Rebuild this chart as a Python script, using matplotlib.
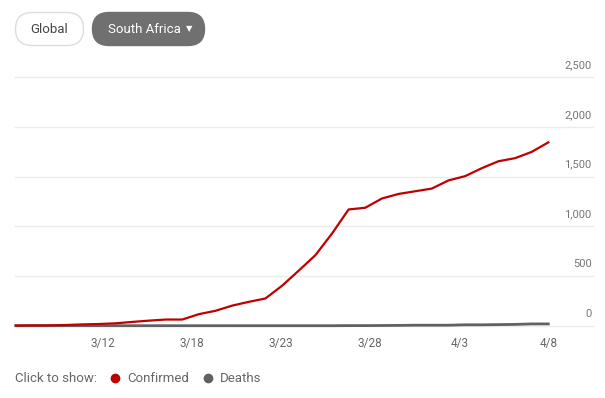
import matplotlib
matplotlib.use("Agg")
import matplotlib.pyplot as plt
from matplotlib.patches import FancyBboxPatch

# --- data (3/7 .. 4/8, one point per day) ---
dates = ['3/7', '3/8', '3/9', '3/10', '3/11', '3/12', '3/13', '3/14', '3/15', '3/16',
         '3/17', '3/18', '3/19', '3/20', '3/21', '3/22', '3/23', '3/24', '3/25', '3/26',
         '3/27', '3/28', '3/29', '3/30', '3/31', '4/1', '4/2', '4/3', '4/4', '4/5',
         '4/6', '4/7', '4/8']
confirmed = [1, 3, 3, 7, 13, 17, 24, 38, 51, 62,
             62, 116, 150, 202, 240, 274, 402, 554, 709, 927,
             1170, 1187, 1280, 1326, 1353, 1380, 1462, 1505, 1585, 1655,
             1686, 1749, 1845]
deaths = [0, 0, 0, 0, 0, 0, 0, 0, 0, 0,
          0, 0, 0, 0, 0, 0, 0, 0, 0, 0,
          1, 1, 2, 3, 5, 5, 5, 9, 9, 11,
          13, 18, 18]
tick_pos = [5.25, 10.6, 15.95, 21.3, 26.65, 32]
tick_labels = ['3/12', '3/18', '3/23', '3/28', '4/3', '4/8']
y_ticks = [0, 500, 1000, 1500, 2000, 2500]
y_labels = ['0', '500', '1,000', '1,500', '2,000', '2,500']

W, H = 605, 398
plt.rcParams['font.family'] = ['Roboto', 'DejaVu Sans']
fig = plt.figure(figsize=(W / 100, H / 100), dpi=100)
fig.patch.set_facecolor('white')

# plot area in pixels: x 15..593, y 77..326
x0, x1, ytop, ybot = 15, 593, 77.3, 325.7
ax = fig.add_axes([x0 / W, 1 - ybot / H, (x1 - x0) / W, (ybot - ytop) / H])
days = list(range(len(dates)))
ax.set_xlim(-0.05, (x1 - 15.8) / 16.64)
ax.set_ylim(0, 2500)
for s in ax.spines.values():
    s.set_visible(False)
ax.set_xticks([])
ax.set_yticks([])

for v, lab in zip(y_ticks, y_labels):
    ax.axhline(v, color='#ebebeb', lw=1, zorder=0, clip_on=False)
    ax.annotate(lab, xy=(1, v), xycoords=('axes fraction', 'data'),
                xytext=(-1, 5), textcoords='offset points',
                ha='right', va='bottom', fontsize=8, color='#757575')

ax.plot(days, deaths, color='#616161', lw=2.0, zorder=3, clip_on=False)
ax.plot(days, confirmed, color='#c00000', lw=1.6, zorder=4, clip_on=False,
        solid_joinstyle='round')

for p, lab in zip(tick_pos, tick_labels):
    ax.annotate(lab, xy=(p, 0), xycoords=('data', 'axes fraction'),
                xytext=(0, -8), textcoords='offset points',
                ha='center', va='top', fontsize=8.5, color='#666666')

# overlay for buttons and legend (pixel coords)
ov = fig.add_axes([0, 0, 1, 1], facecolor='none')
ov.set_xlim(0, W)
ov.set_ylim(H, 0)
ov.axis('off')

ov.add_patch(FancyBboxPatch((15.5, 12.5), 68, 33, boxstyle='round,pad=0,rounding_size=16.5',
                            fc='white', ec='#dadce0', lw=1))
ov.text(49.5, 29.5, 'Global', ha='center', va='center', fontsize=9.5, color='#444444')
ov.add_patch(FancyBboxPatch((92.5, 12.5), 112, 33, boxstyle='round,pad=0,rounding_size=16.5',
                            fc='#707070', ec='#707070', lw=1))
ov.text(144, 29.5, 'South Africa', ha='center', va='center', fontsize=9.5, color='white')
ov.text(189, 29, '\u25bc', ha='center', va='center', fontsize=6, color='white',
        family=['DejaVu Sans'])

ov.text(15, 378, 'Click to show:', ha='left', va='center', fontsize=9.5, color='#666666')
ov.plot([115], [377.5], 'o', ms=6, color='#c00000')
ov.text(127, 378, 'Confirmed', ha='left', va='center', fontsize=9.5, color='#666666')
ov.plot([208], [377.5], 'o', ms=6, color='#616161')
ov.text(220, 378, 'Deaths', ha='left', va='center', fontsize=9.5, color='#666666')

fig.savefig('out.png', dpi=100, facecolor='white')
